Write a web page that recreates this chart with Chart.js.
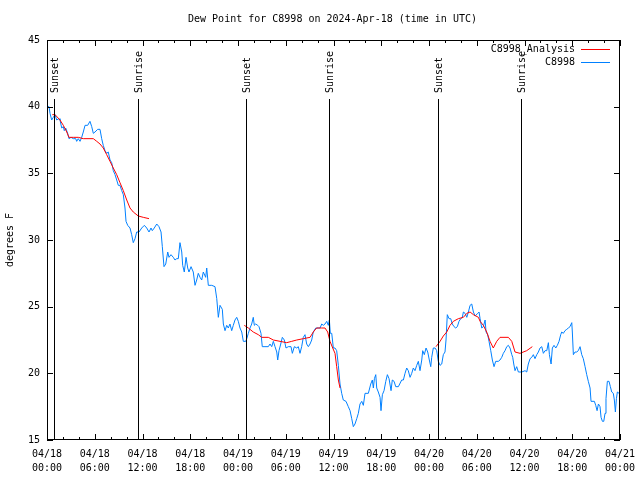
<!DOCTYPE html>
<html>
<head>
<meta charset="utf-8">
<script src="https://cdn.jsdelivr.net/npm/chart.js@4.4.0/dist/chart.umd.min.js"></script>
<style>
html, body { margin: 0; padding: 0; background: #fff; }
canvas { display: block; }
</style>
</head>
<body>
<canvas id="dewchart" width="640" height="480"></canvas>
<script>
// time axis is hours since 2024-04-18 00:00 UTC
const obsHours = [
  0, 0.25, 0.38, 0.59, 0.79, 1.01, 1.22, 1.51, 1.63, 1.85,
  2.05, 2.17, 2.35, 2.60, 2.76, 3.02, 3.30, 3.61, 3.73, 3.93,
  4.15, 4.36, 4.56, 4.78, 5.11, 5.40, 5.62, 5.82, 6.03, 6.37,
  6.66, 6.87, 7.07, 7.29, 7.50, 7.70, 7.92, 8.13, 8.33, 8.55,
  8.76, 8.96, 9.17, 9.39, 9.59, 9.80, 9.93, 10.14, 10.43, 10.64,
  10.84, 11.06, 11.27, 11.56, 11.90, 12.23, 12.53, 12.82, 13.07, 13.23,
  13.48, 13.79, 14.07, 14.33, 14.49, 14.70, 14.92, 15.17, 15.33, 15.58,
  15.87, 16.08, 16.30, 16.50, 16.71, 16.93, 17.05, 17.25, 17.47, 17.68,
  17.84, 18.10, 18.38, 18.60, 18.81, 19.01, 19.23, 19.44, 19.64, 19.94,
  20.07, 20.27, 20.70, 21.11, 21.33, 21.53, 21.74, 22.03, 22.16, 22.37,
  22.58, 22.78, 22.99, 23.21, 23.41, 23.62, 23.84, 24.04, 24.25, 24.47,
  24.67, 24.97, 25.10, 25.30, 25.51, 25.72, 25.92, 26.05, 26.22, 26.48,
  26.64, 26.89, 27.05, 27.39, 27.81, 28.02, 28.24, 28.44, 28.65, 28.87,
  28.99, 29.15, 29.37, 29.57, 29.82, 30.03, 30.32, 30.66, 30.83, 31.08,
  31.38, 31.58, 31.79, 32.00, 32.21, 32.42, 32.63, 32.84, 33.05, 33.26,
  33.46, 33.77, 34.09, 34.31, 34.52, 34.72, 34.93, 35.15, 35.35, 35.48,
  35.60, 35.78, 35.98, 36.19, 36.40, 36.61, 36.82, 37.03, 37.23, 37.57,
  37.86, 38.08, 38.29, 38.49, 38.70, 38.92, 39.12, 39.33, 39.55, 39.75,
  39.96, 40.38, 40.68, 40.88, 41.01, 41.14, 41.31, 41.43, 41.63, 41.85,
  41.97, 42.14, 42.35, 42.57, 42.77, 42.98, 43.23, 43.39, 43.61, 43.82,
  44.15, 44.57, 44.78, 44.99, 45.20, 45.40, 45.62, 45.83, 46.03, 46.24,
  46.46, 46.66, 46.87, 47.09, 47.21, 47.41, 47.63, 47.84, 48.04, 48.22,
  48.34, 48.54, 48.76, 48.97, 49.17, 49.39, 49.60, 49.80, 50.01, 50.14,
  50.30, 50.52, 50.73, 50.93, 51.15, 51.36, 51.56, 51.77, 51.99, 52.19,
  52.32, 52.53, 52.75, 52.95, 53.16, 53.37, 53.58, 53.79, 54.13, 54.29,
  54.42, 54.63, 54.83, 55.05, 55.17, 55.38, 55.54, 55.76, 55.96, 56.17,
  56.38, 56.71, 56.92, 57.14, 57.34, 57.55, 57.77, 57.97, 58.18, 58.40,
  58.52, 58.65, 58.81, 59.02, 59.23, 59.66, 60.07, 60.28, 60.48, 60.70,
  60.91, 61.11, 61.32, 61.54, 61.74, 61.95, 62.17, 62.37, 62.58, 62.80,
  63.00, 63.13, 63.34, 63.50, 63.71, 63.93, 64.13, 64.34, 64.55, 64.68,
  64.88, 65.09, 65.31, 65.51, 65.72, 65.94, 66.01, 66.14, 66.35, 66.56,
  66.76, 66.98, 67.19, 67.39, 67.61, 67.82, 68.02, 68.24, 68.36, 68.78,
  68.95, 69.12, 69.29, 69.49, 69.62, 69.79, 69.96, 70.12, 70.24, 70.41,
  70.62, 70.79, 70.96, 71.16, 71.29, 71.42, 71.55, 71.67, 71.88
];
const obsDew = [
  40.0, 40.0, 39.5, 39.0, 39.2, 39.4, 39.0, 39.1, 39.0, 38.4,
  38.5, 38.2, 38.4, 38.0, 37.6, 37.7, 37.6, 37.6, 37.4, 37.6,
  37.4, 37.7, 38.1, 38.6, 38.6, 38.9, 38.5, 38.0, 38.1, 38.3,
  38.3, 37.6, 37.1, 36.7, 36.5, 36.6, 36.0, 35.8, 35.2, 34.9,
  34.5, 34.1, 34.1, 33.7, 33.4, 32.4, 31.4, 31.1, 30.9, 30.4,
  29.8, 30.1, 30.6, 30.6, 30.9, 31.1, 30.9, 30.6, 30.9, 30.7,
  30.9, 31.2, 31.0, 30.6, 29.5, 28.0, 28.2, 29.1, 28.7, 28.9,
  28.7, 28.5, 28.6, 28.6, 29.8, 29.1, 28.1, 27.6, 28.7, 27.9,
  27.6, 28.0, 27.6, 26.6, 27.0, 27.5, 27.2, 27.0, 27.6, 27.2,
  27.9, 26.6, 26.6, 26.5, 25.6, 24.2, 25.1, 24.8, 23.7, 23.2,
  23.6, 23.4, 23.7, 23.2, 23.6, 24.0, 24.2, 23.9, 23.4, 23.1,
  22.4, 22.4, 22.6, 23.0, 23.4, 23.7, 24.2, 23.6, 23.7, 23.6,
  23.5, 23.0, 22.0, 22.0, 22.0, 22.2, 22.0, 22.4, 22.0, 21.6,
  21.0, 21.7, 22.2, 22.7, 22.5, 21.9, 22.0, 22.0, 21.5, 22.0,
  21.9, 22.0, 21.5, 22.0, 22.7, 22.9, 22.2, 22.0, 22.2, 22.5,
  23.1, 23.4, 23.4, 23.4, 23.7, 23.6, 23.7, 23.9, 23.6, 24.0,
  23.0, 23.0, 21.9, 21.9, 21.7, 20.6, 19.2, 18.5, 18.0, 17.9,
  17.5, 17.2, 16.6, 16.0, 16.2, 16.6, 17.0, 17.7, 17.9, 17.6,
  18.5, 18.5, 19.2, 19.5, 18.9, 19.6, 19.9, 18.9, 18.6, 18.2,
  17.2, 18.4, 18.7, 19.4, 19.9, 19.6, 18.7, 19.5, 19.4, 19.0,
  19.0, 19.5, 19.5, 20.0, 20.4, 20.2, 19.7, 20.0, 20.4, 20.2,
  20.6, 20.9, 20.2, 21.0, 21.7, 21.4, 21.9, 21.6, 21.0, 20.5,
  21.2, 21.9, 21.9, 21.7, 20.9, 20.6, 20.7, 21.4, 21.6, 22.5,
  24.4, 24.1, 24.1, 23.7, 23.5, 23.4, 23.5, 23.9, 24.1, 24.2,
  24.6, 24.5, 24.2, 24.6, 25.1, 25.2, 24.6, 24.3, 24.5, 24.6,
  24.1, 23.4, 23.5, 24.0, 23.1, 22.9, 22.4, 21.7, 21.0, 20.5,
  20.9, 20.9, 21.0, 21.2, 21.5, 21.7, 22.0, 22.1, 21.9, 21.4,
  21.2, 20.7, 20.2, 20.5, 20.1, 20.1, 20.2, 20.1, 20.7, 21.1,
  21.2, 21.4, 21.1, 21.4, 21.6, 21.9, 22.0, 21.5, 21.7, 21.7,
  22.3, 21.4, 20.7, 21.9, 22.1, 21.9, 22.1, 22.4, 22.9, 23.1,
  23.0, 23.2, 23.3, 23.4, 23.5, 23.8, 23.1, 21.4, 21.6, 21.6,
  21.7, 22.0, 21.4, 21.1, 20.5, 19.9, 19.4, 18.9, 17.9, 17.9,
  17.6, 17.2, 17.7, 17.5, 16.7, 16.4, 16.4, 17.0, 18.1, 19.4,
  19.4, 19.0, 18.6, 18.5, 18.0, 17.1, 18.1, 18.6, 18.5
];

// analysis only covers the nights, null = gap
const anaHours = [
  0.67, 1.01, 1.63, 2.05, 2.48, 2.76, 3.30, 3.93, 4.56, 5.82,
  6.25, 6.66, 7.07, 7.50, 7.92, 8.33, 8.76, 9.17, 9.59, 10.02,
  10.43, 10.84, 11.47, 12.10, 12.82, 18,
  24.79, 25.30, 25.92, 26.55, 26.98, 27.81, 28.44, 29.28, 30.12, 30.75,
  31.38, 32.21, 33.05, 33.46, 33.88, 34.52, 34.93, 35.27, 35.56, 35.90,
  36.19, 36.40, 36.61, 36.82, 42,
  48.88, 49.39, 49.80, 50.23, 50.64, 51.06, 51.69, 52.32, 52.75, 53.16,
  53.58, 54.21, 54.42, 54.83, 55.25, 55.67, 56.08, 56.51, 56.92, 57.97,
  58.40, 58.81, 59.44, 60.28, 60.98
];
const anaDew = [
  39.4, 39.4, 39.0, 38.6, 38.1, 37.7, 37.7, 37.7, 37.6, 37.6,
  37.4, 37.2, 36.9, 36.4, 35.9, 35.4, 34.9, 34.3, 33.7, 33.0,
  32.4, 32.1, 31.8, 31.7, 31.6, null,
  23.6, 23.4, 23.1, 22.9, 22.7, 22.7, 22.5, 22.4, 22.3, 22.4,
  22.5, 22.6, 22.7, 23.1, 23.4, 23.4, 23.4, 23.1, 22.4, 21.9,
  21.5, 20.5, 19.5, 18.9, null,
  22.0, 22.4, 22.8, 23.1, 23.6, 23.9, 24.1, 24.2, 24.5, 24.6,
  24.4, 24.2, 23.9, 23.6, 23.1, 22.4, 21.9, 22.4, 22.7, 22.7,
  22.4, 21.6, 21.5, 21.7, 22.0
];

const sunHours = [0.92, 11.47, 25.05, 35.48, 49.17, 59.60];
const sunLabels = ['Sunset', 'Sunrise', 'Sunset', 'Sunrise', 'Sunset', 'Sunrise'];

const tickDates = ['04/18', '04/18', '04/18', '04/18', '04/19', '04/19', '04/19',
  '04/19', '04/20', '04/20', '04/20', '04/20', '04/21'];
const tickTimes = ['00:00', '06:00', '12:00', '18:00', '00:00', '06:00', '12:00',
  '18:00', '00:00', '06:00', '12:00', '18:00', '00:00'];

const FONT = '10px "DejaVu Sans Mono"';

function pairs(xs, ys) {
  return xs.map((h, i) => ({ x: h, y: ys[i] }));
}

// border, inward ticks, sun lines, legend, labels
const decor = {
  id: 'decor',
  afterDatasetsDraw(chart) {
    const { ctx, chartArea: a, scales: { x, y } } = chart;
    ctx.save();
    ctx.strokeStyle = '#000';
    ctx.fillStyle = '#000';
    ctx.lineWidth = 1;
    ctx.font = FONT;

    sunHours.forEach((h, i) => {
      const px = Math.round(x.getPixelForValue(h)) + 0.5;
      ctx.beginPath();
      ctx.moveTo(px, a.top + 59);
      ctx.lineTo(px, a.bottom);
      ctx.stroke();
      ctx.save();
      ctx.translate(px + 1, a.top + 53);
      ctx.rotate(-Math.PI / 2);
      ctx.textAlign = 'left';
      ctx.textBaseline = 'middle';
      ctx.fillText(sunLabels[i], 0, 0);
      ctx.restore();
    });

    ctx.strokeRect(a.left + 0.5, a.top + 0.5, a.right - a.left - 1, a.bottom - a.top - 1);

    ctx.beginPath();
    for (let h = 0; h <= 72; h += 2) {
      const px = Math.round(x.getPixelForValue(h)) + 0.5;
      const len = h % 6 === 0 ? 6 : 3;
      ctx.moveTo(px, a.bottom); ctx.lineTo(px, a.bottom - len);
      ctx.moveTo(px, a.top); ctx.lineTo(px, a.top + len);
    }
    for (let v = 15; v <= 45; v += 5) {
      const py = Math.round(y.getPixelForValue(v)) + 0.5;
      ctx.moveTo(a.left, py); ctx.lineTo(a.left + 6, py);
      ctx.moveTo(a.right, py); ctx.lineTo(a.right - 6, py);
    }
    ctx.stroke();

    // legend
    ctx.textAlign = 'right';
    ctx.textBaseline = 'middle';
    chart.data.datasets.forEach((ds, i) => {
      const ly = a.top + 9 + i * 13;
      ctx.fillStyle = '#000';
      ctx.fillText(ds.label, a.right - 45, ly);
      ctx.strokeStyle = ds.borderColor;
      ctx.beginPath();
      ctx.moveTo(a.right - 39, ly + 0.5);
      ctx.lineTo(a.right - 10, ly + 0.5);
      ctx.stroke();
    });

    // title and y axis label
    ctx.fillStyle = '#000';
    ctx.textAlign = 'center';
    ctx.fillText('Dew Point for C8998 on 2024-Apr-18 (time in UTC)', (a.left + a.right) / 2 - 1, 19);
    ctx.save();
    ctx.translate(10, (a.top + a.bottom) / 2);
    ctx.rotate(-Math.PI / 2);
    ctx.fillText('degrees F', 0, 0);
    ctx.restore();
    ctx.restore();
  }
};

const ctx = document.getElementById('dewchart').getContext('2d');
const dewChart = new Chart(ctx, {
  type: 'line',
  data: {
    datasets: [{
      label: 'C8998_Analysis',
      data: pairs(anaHours, anaDew),
      borderColor: '#ff0000',
      borderWidth: 1,
      pointRadius: 0,
      spanGaps: false,
      tension: 0
    }, {
      label: 'C8998',
      data: pairs(obsHours, obsDew),
      borderColor: '#0080ff',
      borderWidth: 1,
      pointRadius: 0,
      tension: 0
    }]
  },
  options: {
    responsive: false,
    animation: false,
    devicePixelRatio: 1,
    layout: { padding: { top: 40, right: 20, left: 0, bottom: 0 } },
    plugins: {
      legend: { display: false },
      title: { display: false },
      tooltip: { enabled: false }
    },
    scales: {
      x: {
        type: 'linear',
        min: 0,
        max: 72,
        afterFit: (s) => { s.height = 40; s.paddingLeft = 0; s.paddingRight = 0; },
        grid: { display: false, drawTicks: false },
        border: { display: false },
        ticks: {
          stepSize: 6,
          maxRotation: 0,
          autoSkip: false,
          padding: 7,
          color: '#000',
          font: { family: 'DejaVu Sans Mono', size: 10, lineHeight: 1.4 },
          callback: (v) => {
            const i = Math.round(v / 6);
            return [tickDates[i], tickTimes[i]];
          }
        }
      },
      y: {
        min: 15,
        max: 45,
        afterFit: (s) => { s.width = 47; },
        grid: { display: false, drawTicks: false },
        border: { display: false },
        ticks: {
          stepSize: 5,
          padding: 7,
          color: '#000',
          font: { family: 'DejaVu Sans Mono', size: 10 }
        }
      }
    }
  },
  plugins: [decor]
});
</script>
</body>
</html>
